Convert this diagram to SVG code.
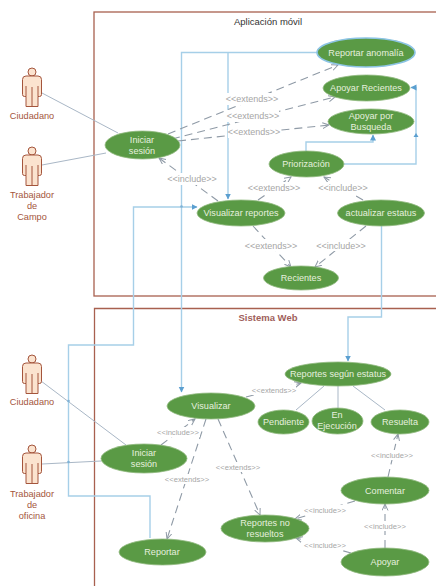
<svg xmlns="http://www.w3.org/2000/svg" width="436" height="586" viewBox="0 0 436 586">
<style>
text{font-family:"Liberation Sans",Arial,sans-serif;text-anchor:middle}
.frame{fill:none;stroke:#a8604f;stroke-width:1.3}
.uc{fill:#5a9a45;stroke:#8fb97e;stroke-width:.8}
.uc-t{fill:#e6f0df;font-size:9.100px}
.pb{fill:#fbe3cf;stroke:#a4553c;stroke-width:1}
.pl{fill:none;stroke:#a4553c;stroke-width:1}
.act text{fill:#a4553c;font-size:9.200px}
.blue{fill:none;stroke:#a6cfe8;stroke-width:1.400}
.gray{fill:none;stroke:#a9b7c6;stroke-width:1}
.dash{fill:none;stroke:#8f9aa6;stroke-width:1.100;stroke-dasharray:8 5;marker-end:url(#open)}
.lbl{fill:#a6a6a6;font-size:9px}
.lbls{fill:#a6a6a6;font-size:7.600px}
</style>
<defs>
<marker id="open" markerWidth="8" markerHeight="8" refX="6.500" refY="3.500" orient="auto" markerUnits="userSpaceOnUse"><path d="M0 .5L6.500 3.500L0 6.500" fill="none" stroke="#8f9aa6"/></marker>
<marker id="tri" markerWidth="7" markerHeight="7" refX="5.500" refY="3" orient="auto" markerUnits="userSpaceOnUse"><path d="M0 0L6 3L0 6Z" fill="#5b9fd0"/></marker>
<g id="person"><circle class="pb" cx="0" cy="0" r="4"/><path class="pb" d="M-6 4H6Q9.500 4 9.500 7.500V22.500Q9.500 24.500 7.500 24.500H6V34.500H-6V24.500H-7.500Q-9.500 24.500 -9.500 22.500V7.500Q-9.500 4 -6 4Z"/><path class="pl" d="M0 15V34.500M-6 14V24.500M6 14V24.500"/></g>
</defs>
<rect class="frame" x="94" y="12" width="343" height="284"/>
<path class="frame" d="M437 308.500H94.500V587"/>
<text x="268" y="25" font-size="9.500" fill="#333">Aplicación móvil</text>
<text x="268" y="321" font-size="9.500" font-weight="bold" fill="#a0605a">Sistema Web</text>
<g id="connectors">
<path class="gray" d="M42 93L118 133M42 165L106 153M41 381L126 445M42 464L101 461M324 386L296 410M338 386V408M353 386L385 410"/>
<path class="blue" d="M317 52.500H181.500V392" marker-end="url(#tri)"/>
<path class="blue" d="M228 52.500V199" marker-end="url(#tri)"/>
<path class="blue" d="M150 538V496H68.500V345H133.500V207H197" marker-end="url(#tri)"/>
<path class="blue" d="M381.500 226V317H348V361" marker-end="url(#tri)"/>
<path class="blue" d="M306 151V142H373V135" marker-end="url(#tri)"/>
<path class="blue" d="M344 164H416V87.500H411" marker-end="url(#tri)"/>
<path d="M413.500 137L416 133L418.500 137Z" fill="#5b9fd0"/>
<circle cx="181.500" cy="206.500" r="1.300" fill="#7fb2d6"/><circle cx="68.500" cy="401" r="1.300" fill="#7fb2d6"/><circle cx="68.500" cy="462" r="1.300" fill="#7fb2d6"/>
<path class="dash" d="M168 134L338 65"/>
<path class="dash" d="M172 139L335 97"/>
<path class="dash" d="M178 141L329 125"/>
<path class="dash" d="M218 201L159 158"/>
<path class="dash" d="M258 200L291 177"/>
<path class="dash" d="M363 200L324 177"/>
<path class="dash" d="M253 226L291 267"/>
<path class="dash" d="M366 226L315 267"/>
<path class="dash" d="M161 445L195 419"/>
<path class="dash" d="M206 419L167 539"/>
<path class="dash" d="M246 397L301 383"/>
<path class="dash" d="M218 419L260 515"/>
<path class="dash" d="M388 477L398 434"/>
<path class="dash" d="M355 501L295 519"/>
<path class="dash" d="M351 553L296 538"/>
<path class="dash" d="M385 548V504"/>
</g>
<g id="labels">
<g fill="#fff"><rect x="226" y="93" width="52" height="12"/><rect x="227" y="110" width="52" height="12"/><rect x="228" y="126" width="52" height="12"/><rect x="166" y="173" width="52" height="12"/><rect x="248" y="182" width="52" height="12"/><rect x="318" y="182" width="50" height="12"/><rect x="245" y="239" width="52" height="12"/><rect x="316" y="239" width="50" height="12"/><rect x="156" y="427" width="44" height="10"/><rect x="165" y="474" width="44" height="10"/><rect x="252" y="385" width="44" height="10"/><rect x="216" y="462" width="44" height="10"/><rect x="370" y="450" width="44" height="10"/><rect x="303" y="505" width="44" height="10"/><rect x="303" y="540" width="44" height="10"/><rect x="363" y="521" width="44" height="10"/></g>
<text class="lbl" x="252" y="102">&lt;&lt;extends&gt;&gt;</text>
<text class="lbl" x="253" y="119">&lt;&lt;extends&gt;&gt;</text>
<text class="lbl" x="254" y="135">&lt;&lt;extends&gt;&gt;</text>
<text class="lbl" x="192" y="182">&lt;&lt;include&gt;&gt;</text>
<text class="lbl" x="274" y="191">&lt;&lt;extends&gt;&gt;</text>
<text class="lbl" x="343" y="191">&lt;&lt;include&gt;&gt;</text>
<text class="lbl" x="271" y="249">&lt;&lt;extends&gt;&gt;</text>
<text class="lbl" x="341" y="249">&lt;&lt;include&gt;&gt;</text>
<text class="lbls" x="178" y="435">&lt;&lt;include&gt;&gt;</text>
<text class="lbls" x="187" y="482">&lt;&lt;extends&gt;&gt;</text>
<text class="lbls" x="274" y="393">&lt;&lt;extends&gt;&gt;</text>
<text class="lbls" x="238" y="470">&lt;&lt;extends&gt;&gt;</text>
<text class="lbls" x="392" y="458">&lt;&lt;include&gt;&gt;</text>
<text class="lbls" x="325" y="513">&lt;&lt;include&gt;&gt;</text>
<text class="lbls" x="325" y="548">&lt;&lt;include&gt;&gt;</text>
<text class="lbls" x="385" y="529">&lt;&lt;include&gt;&gt;</text>
</g>
<g id="actor-ciudadano" class="act"><use href="#person" x="32" y="72"/><text x="32" y="119">Ciudadano</text></g>
<g id="actor-campo" class="act"><use href="#person" x="32" y="151"/><text x="32" y="198">Trabajador</text><text x="32" y="209">de</text><text x="32" y="220">Campo</text></g>
<g id="actor-ciudadano-web" class="act"><use href="#person" x="32" y="359"/><text x="32" y="405">Ciudadano</text></g>
<g id="actor-oficina" class="act"><use href="#person" x="32" y="449"/><text x="32" y="497">Trabajador</text><text x="32" y="508">de</text><text x="32" y="519">oficina</text></g>
<g id="uc-iniciar-app"><ellipse class="uc" cx="142.500" cy="145" rx="37.500" ry="14"/><text class="uc-t" x="142" y="143">Iniciar</text><text class="uc-t" x="142" y="154">sesión</text></g>
<g id="uc-reportar-anomalia"><ellipse cx="366" cy="52.500" rx="49" ry="14.500" fill="#5a9a45" stroke="#8cc4e4" stroke-width="1.600"/><text class="uc-t" x="366" y="56">Reportar anomalía</text></g>
<g id="uc-apoyar-recientes"><ellipse class="uc" cx="366.500" cy="88" rx="43.500" ry="13"/><text class="uc-t" x="366" y="91">Apoyar Recientes</text></g>
<g id="uc-apoyar-busqueda"><ellipse class="uc" cx="371" cy="121.500" rx="43" ry="12.500"/><text class="uc-t" x="371" y="119">Apoyar por</text><text class="uc-t" x="371" y="130">Busqueda</text></g>
<g id="uc-priorizacion"><ellipse class="uc" cx="306.500" cy="164" rx="37.500" ry="13"/><text class="uc-t" x="306" y="167">Priorización</text></g>
<g id="uc-visualizar-reportes"><ellipse class="uc" cx="241" cy="213" rx="44" ry="13"/><text class="uc-t" x="241" y="216">Visualizar reportes</text></g>
<g id="uc-actualizar"><ellipse class="uc" cx="381" cy="213" rx="43.500" ry="13"/><text class="uc-t" x="381" y="216">actualizar estatus</text></g>
<g id="uc-recientes"><ellipse class="uc" cx="301" cy="278" rx="37.500" ry="12"/><text class="uc-t" x="301" y="281">Recientes</text></g>
<g id="uc-visualizar"><ellipse class="uc" cx="211" cy="406" rx="44" ry="13"/><text class="uc-t" x="211" y="409">Visualizar</text></g>
<g id="uc-iniciar-web"><ellipse class="uc" cx="144" cy="458.500" rx="43" ry="14.500"/><text class="uc-t" x="144" y="456">Iniciar</text><text class="uc-t" x="144" y="467">sesión</text></g>
<g id="uc-reportar"><ellipse class="uc" cx="162.500" cy="552" rx="43.500" ry="13"/><text class="uc-t" x="162" y="555">Reportar</text></g>
<g id="uc-estatus"><ellipse class="uc" cx="338" cy="374" rx="53" ry="12"/><text class="uc-t" x="338" y="377">Reportes según estatus</text></g>
<g id="uc-pendiente"><ellipse class="uc" cx="283.500" cy="422" rx="25.500" ry="12"/><text class="uc-t" x="283.500" y="425">Pendiente</text></g>
<g id="uc-ejecucion"><ellipse class="uc" cx="337.500" cy="421" rx="25.500" ry="13"/><text class="uc-t" x="337" y="418">En</text><text class="uc-t" x="337" y="429">Ejecución</text></g>
<g id="uc-resuelta"><ellipse class="uc" cx="400" cy="422" rx="29" ry="12"/><text class="uc-t" x="400" y="425">Resuelta</text></g>
<g id="uc-comentar"><ellipse class="uc" cx="385" cy="490.500" rx="44" ry="13.500"/><text class="uc-t" x="385" y="494">Comentar</text></g>
<g id="uc-no-resueltos"><ellipse class="uc" cx="265" cy="528.500" rx="44" ry="13.500"/><text class="uc-t" x="265" y="526">Reportes no</text><text class="uc-t" x="265" y="537">resueltos</text></g>
<g id="uc-apoyar"><ellipse class="uc" cx="385" cy="562" rx="44" ry="14"/><text class="uc-t" x="385" y="565">Apoyar</text></g>
</svg>
